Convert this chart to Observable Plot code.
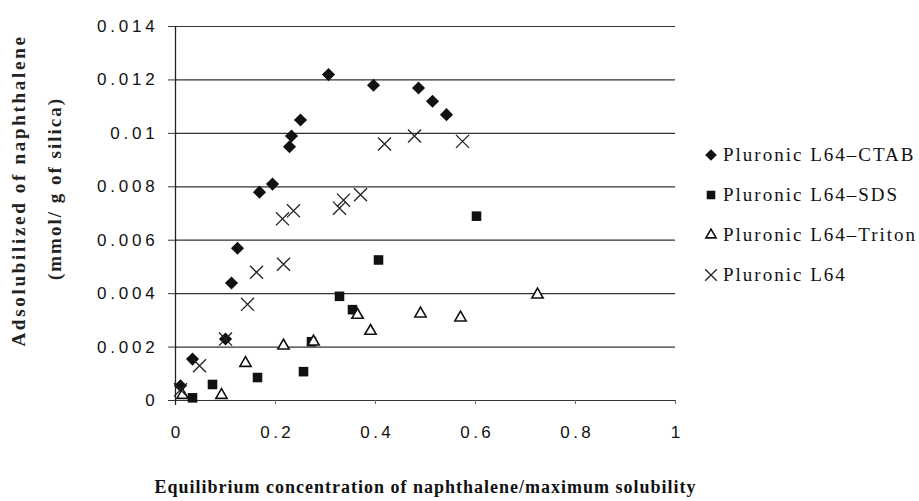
<!DOCTYPE html>
<html><head><meta charset="utf-8">
<script src="https://cdn.jsdelivr.net/npm/d3@7"></script>
<script src="https://cdn.jsdelivr.net/npm/@observablehq/plot@0.6"></script>
<style>
html,body{margin:0;padding:0;background:#fff;}
#wrap{position:relative;width:919px;height:501px;}
#legend{position:absolute;left:700px;top:135px;font-family:"Liberation Serif","Times New Roman",serif;font-size:19px;letter-spacing:2px;color:#111;}
#legend .row{height:40px;display:flex;align-items:center;white-space:nowrap;}
#legend svg{width:22px;height:22px;margin-right:1px;flex:none;}
</style>
</head><body><div id="wrap"><div id="legend"></div></div>
<script>
// ---- data ----
const seriesNames = ["Pluronic L64\u2013CTAB", "Pluronic L64\u2013SDS", "Pluronic L64\u2013Triton", "Pluronic L64"];

const ctabX = [0.010, 0.034, 0.100, 0.112, 0.124, 0.168, 0.194, 0.228, 0.232, 0.250, 0.306, 0.396, 0.486, 0.514, 0.542];
const ctabY = [0.00055, 0.00155, 0.0023, 0.0044, 0.0057, 0.0078, 0.0081, 0.0095, 0.0099, 0.0105, 0.0122, 0.0118, 0.0117, 0.0112, 0.0107];

const sdsX = [0.034, 0.074, 0.164, 0.256, 0.272, 0.328, 0.354, 0.406, 0.602];
const sdsY = [0.0001, 0.0006, 0.00086, 0.00108, 0.0022, 0.0039, 0.0034, 0.00526, 0.0069];

const tritonX = [0.014, 0.092, 0.140, 0.216, 0.276, 0.364, 0.390, 0.490, 0.570, 0.724];
const tritonY = [0.0002, 0.0002, 0.0014, 0.00205, 0.0022, 0.0032, 0.0026, 0.00325, 0.0031, 0.00396];

const l64X = [0.010, 0.048, 0.100, 0.144, 0.162, 0.216, 0.214, 0.236, 0.328, 0.336, 0.370, 0.418, 0.478, 0.574];
const l64Y = [0.0004, 0.0013, 0.0023, 0.0036, 0.0048, 0.0051, 0.0068, 0.0071, 0.0072, 0.0075, 0.0077, 0.0096, 0.0099, 0.0097];

const xTicks = [0, 0.2, 0.4, 0.6, 0.8, 1];
const yTicks = [0, 0.002, 0.004, 0.006, 0.008, 0.010, 0.012, 0.014];

const xTitle = "Equilibrium concentration of naphthalene/maximum solubility";
const yTitle1 = "Adsolubilized of naphthalene";
const yTitle2 = "(mmol/ g of silica)";

// ---- build tables ----
const toRows = (xs, ys) => xs.map((x, i) => ({x, y: ys[i]}));
const ctab = toRows(ctabX, ctabY);
const sds = toRows(sdsX, sdsY);
const triton = toRows(tritonX, tritonY);
const l64 = toRows(l64X, l64Y);

const styles = [
  {symbol: "diamond2", fill: "#111", stroke: "none", r: 5.9, strokeWidth: 0},
  {symbol: "square", fill: "#111", stroke: "none", r: 5.4, strokeWidth: 0},
  {symbol: "triangle2", fill: "white", stroke: "#111", r: 5.4, strokeWidth: 1.6},
  {symbol: "times", fill: "none", stroke: "#222", r: 6, strokeWidth: 1.3}
];

const fmt = d => d === 0 ? "0" : String(+d.toFixed(3));
const serif = "'Liberation Serif','Times New Roman',serif";
const sans = "'Liberation Sans',Arial,sans-serif";

const chart = Plot.plot({
  width: 919, height: 501,
  marginLeft: 175, marginRight: 244, marginTop: 26, marginBottom: 101,
  x: {domain: [0, 1]},
  y: {domain: [0, 0.014]},
  style: {background: "white", fontFamily: sans, fontSize: "17px", color: "#111", overflow: "visible"},
  marks: [
    Plot.ruleY(yTicks, {y: d => d, stroke: "#333", strokeWidth: 1.2, strokeOpacity: 1}),
    Plot.axisY({ticks: yTicks, tickFormat: fmt, tickSize: 7, tickPadding: 10, label: null, stroke: "#333", strokeOpacity: 1, fontSize: 17}),
    Plot.axisX({ticks: xTicks, tickFormat: fmt, tickSize: 4, tickPadding: 21, label: null, stroke: "#666", strokeOpacity: 1, fontSize: 17}),
    Plot.ruleX([0], {stroke: "#222", strokeWidth: 1.3, insetBottom: -5}),
    Plot.dot(ctab, {x: "x", y: "y", ...styles[0]}),
    Plot.dot(sds, {x: "x", y: "y", ...styles[1]}),
    Plot.dot(triton, {x: "x", y: "y", ...styles[2]}),
    Plot.dot(l64, {x: "x", y: "y", ...styles[3]}),
    Plot.text([yTitle1], {text: d => d, frameAnchor: "left", textAnchor: "middle", lineAnchor: "middle", rotate: -90, dx: -157, dy: -23, fontFamily: serif, fontWeight: "bold", fontSize: 19, fill: "#222"}),
    Plot.text([yTitle2], {text: d => d, frameAnchor: "left", textAnchor: "middle", lineAnchor: "middle", rotate: -90, dx: -121, dy: -25, fontFamily: serif, fontWeight: "bold", fontSize: 19, fill: "#222"}),
    Plot.text([xTitle], {text: d => d, frameAnchor: "bottom", textAnchor: "middle", lineAnchor: "middle", dx: 0, dy: 87, fontFamily: serif, fontWeight: "bold", fontSize: 18, fill: "#111"})
  ]
});

// letter spacing (the reference text is widely tracked)
const sel = d3.select(chart);
sel.selectAll("g[aria-label='y-axis tick label'] text").style("letter-spacing", "3.8px");
sel.selectAll("g[aria-label='x-axis tick label'] text").style("letter-spacing", "3.5px").attr("dx", "1.75");
sel.selectAll("text").each(function() {
  const t = this.textContent;
  if (t === yTitle1) d3.select(this).style("letter-spacing", "2.7px");
  if (t === yTitle2) d3.select(this).style("letter-spacing", "2.0px");
  if (t === xTitle) d3.select(this).style("letter-spacing", "1px");
});

document.getElementById("wrap").prepend(chart);

// ---- legend (HTML, symbols from the same d3 symbol types) ----
const symMap = {diamond2: d3.symbolDiamond2, square: d3.symbolSquare, triangle2: d3.symbolTriangle2, times: d3.symbolTimes};
const legend = d3.select("#legend");
seriesNames.forEach((name, i) => {
  const s = styles[i];
  const row = legend.append("div").attr("class", "row");
  const svg = row.append("svg").attr("viewBox", "-11 -11 22 22");
  svg.append("path")
    .attr("d", d3.symbol(symMap[s.symbol], Math.PI * s.r * s.r * 0.8)())
    .attr("fill", s.fill).attr("stroke", s.stroke).attr("stroke-width", s.strokeWidth);
  row.append("span").text(name);
});
</script>
</body></html>
